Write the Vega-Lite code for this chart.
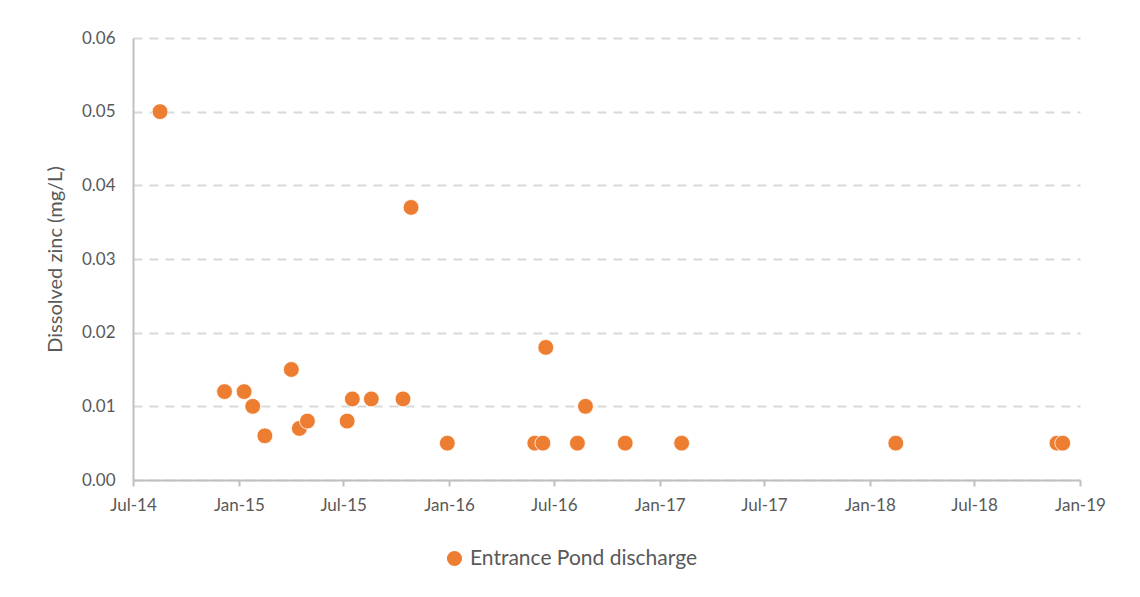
{
  "$schema": "https://vega.github.io/schema/vega-lite/v6.json",
  "autosize": "none",
  "width": 947,
  "height": 442,
  "padding": {"left": 133, "top": 38, "right": 60, "bottom": 117},
  "background": "white",
  "config": {
    "view": {"stroke": null},
    "font": "Lato"
  },
  "data": {
    "values": [
      {"date": "2014/08/17", "zinc": 0.05, "series": "Entrance Pond discharge"},
      {"date": "2014/12/07", "zinc": 0.012, "series": "Entrance Pond discharge"},
      {"date": "2015/01/10", "zinc": 0.012, "series": "Entrance Pond discharge"},
      {"date": "2015/01/25", "zinc": 0.01, "series": "Entrance Pond discharge"},
      {"date": "2015/02/15", "zinc": 0.006, "series": "Entrance Pond discharge"},
      {"date": "2015/04/02", "zinc": 0.015, "series": "Entrance Pond discharge"},
      {"date": "2015/04/16", "zinc": 0.007, "series": "Entrance Pond discharge"},
      {"date": "2015/04/30", "zinc": 0.008, "series": "Entrance Pond discharge"},
      {"date": "2015/07/08", "zinc": 0.008, "series": "Entrance Pond discharge"},
      {"date": "2015/07/17", "zinc": 0.011, "series": "Entrance Pond discharge"},
      {"date": "2015/08/19", "zinc": 0.011, "series": "Entrance Pond discharge"},
      {"date": "2015/10/13", "zinc": 0.011, "series": "Entrance Pond discharge"},
      {"date": "2015/10/27", "zinc": 0.037, "series": "Entrance Pond discharge"},
      {"date": "2015/12/29", "zinc": 0.005, "series": "Entrance Pond discharge"},
      {"date": "2016/05/29", "zinc": 0.005, "series": "Entrance Pond discharge"},
      {"date": "2016/06/12", "zinc": 0.005, "series": "Entrance Pond discharge"},
      {"date": "2016/06/17", "zinc": 0.018, "series": "Entrance Pond discharge"},
      {"date": "2016/08/11", "zinc": 0.005, "series": "Entrance Pond discharge"},
      {"date": "2016/08/25", "zinc": 0.01, "series": "Entrance Pond discharge"},
      {"date": "2016/11/02", "zinc": 0.005, "series": "Entrance Pond discharge"},
      {"date": "2017/02/08", "zinc": 0.005, "series": "Entrance Pond discharge"},
      {"date": "2018/02/15", "zinc": 0.005, "series": "Entrance Pond discharge"},
      {"date": "2018/11/22", "zinc": 0.005, "series": "Entrance Pond discharge"},
      {"date": "2018/12/02", "zinc": 0.005, "series": "Entrance Pond discharge"}
    ]
  },
  "mark": {"type": "circle", "size": 250, "opacity": 1, "stroke": "white", "strokeWidth": 0.8},
  "encoding": {
    "x": {
      "field": "date",
      "type": "temporal",
      "scale": {
        "domain": [
          {"year": 2014, "month": 7, "date": 1},
          {"year": 2019, "month": 1, "date": 1}
        ],
        "nice": false
      },
      "axis": {
        "title": null,
        "values": [
          {"year": 2014, "month": 7, "date": 1},
          {"year": 2015, "month": 1, "date": 1},
          {"year": 2015, "month": 7, "date": 1},
          {"year": 2016, "month": 1, "date": 1},
          {"year": 2016, "month": 7, "date": 1},
          {"year": 2017, "month": 1, "date": 1},
          {"year": 2017, "month": 7, "date": 1},
          {"year": 2018, "month": 1, "date": 1},
          {"year": 2018, "month": 7, "date": 1},
          {"year": 2019, "month": 1, "date": 1}
        ],
        "format": "%b-%y",
        "grid": false,
        "domainColor": "#bfbfbf",
        "domainWidth": 2,
        "tickColor": "#bfbfbf",
        "tickWidth": 2,
        "tickSize": 6,
        "labelColor": "#595959",
        "labelFontSize": 17,
        "labelPadding": 11,
        "labelFlush": false,
        "labelOverlap": false
      }
    },
    "y": {
      "field": "zinc",
      "type": "quantitative",
      "scale": {"domain": [0, 0.06], "nice": false},
      "axis": {
        "title": "Dissolved zinc (mg/L)",
        "titleColor": "#595959",
        "titleFontSize": 20,
        "titleFontWeight": "normal",
        "titlePadding": 16,
        "values": [0, 0.01, 0.02, 0.03, 0.04, 0.05, 0.06],
        "format": ".2f",
        "grid": true,
        "gridColor": "#d9d9d9",
        "gridDash": [9, 7],
        "gridWidth": 2,
        "domainColor": "#bfbfbf",
        "domainWidth": 2,
        "ticks": false,
        "labelColor": "#595959",
        "labelFontSize": 17,
        "labelPadding": 18,
        "labelFlush": false
      }
    },
    "color": {
      "field": "series",
      "type": "nominal",
      "scale": {"range": ["#ED7D31"]},
      "legend": {
        "title": null,
        "orient": "none",
        "legendX": 311,
        "legendY": 510,
        "symbolType": "circle",
        "symbolSize": 230,
        "symbolStrokeWidth": 0,
        "labelColor": "#595959",
        "labelFontSize": 21,
        "labelLimit": 400,
        "labelOffset": 5
      }
    }
  }
}
